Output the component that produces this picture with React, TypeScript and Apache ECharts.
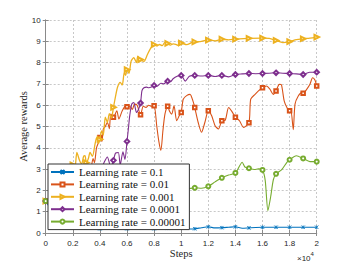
import React, { useEffect, useRef } from "react";
import * as echarts from "echarts";

// x in thousands of steps, y = average reward
const lr1: [number, number][] = [
  [0, 1.5], [0.5, 1.0], [1, 0.6], [1.5, 0.4], [2, 0.3], [3, 0.25], [4, 0.2], [5, 0.22], [6, 0.2],
  [7, 0.24], [8, 0.2], [9, 0.22], [9.5, 0.27], [10, 0.27], [10.3, 0.37], [10.65, 0.19], [11, 0.2],
  [11.5, 0.25], [12, 0.29], [12.5, 0.24], [13, 0.25], [13.5, 0.27], [14, 0.29], [14.5, 0.22],
  [15, 0.24], [15.5, 0.26], [16, 0.27], [17, 0.27], [18, 0.27], [19, 0.27], [20, 0.27],
];
const lr2: [number, number][] = [
  [0, 1.5], [1, 1.7], [2, 2.0], [2.5, 2.3], [3, 2.6], [3.2, 2.9], [3.35, 3.08], [3.5, 3.5],
  [3.6, 3.3], [3.75, 4.0], [3.9, 4.26], [4, 4.48], [4.15, 4.3], [4.25, 4.88], [4.4, 5.0],
  [4.55, 5.2], [4.7, 4.9], [4.8, 5.58], [5, 5.43], [5.25, 5.74], [5.4, 5.35], [5.65, 5.74],
  [5.9, 5.97], [6, 5.93], [6.2, 5.95], [6.4, 5.8], [6.55, 6.05], [6.75, 6.0], [7, 5.55],
  [7.2, 5.95], [7.4, 5.9], [7.6, 6.0], [7.8, 5.95], [8, 5.97], [8.2, 5.0], [8.35, 4.3],
  [8.5, 3.88], [8.65, 4.8], [8.8, 5.58], [9, 5.95], [9.15, 5.7], [9.3, 5.58], [9.47, 5.97],
  [9.67, 5.27], [9.85, 5.5], [10, 5.66], [10.15, 6.28], [10.4, 6.45], [10.65, 6.51],
  [10.9, 6.13], [11, 5.89], [11.25, 5.2], [11.5, 4.73], [11.75, 5.2], [12, 5.74], [12.25, 5.5],
  [12.5, 5.04], [12.75, 4.88], [13, 5.27], [13.25, 5.3], [13.5, 5.89], [13.75, 5.7], [14, 5.43],
  [14.3, 5.27], [14.6, 4.96], [15, 5.18], [15.13, 6.28], [15.45, 6.51], [15.7, 6.67], [16, 6.82],
  [16.3, 6.9], [16.55, 6.75], [16.8, 6.51], [17, 6.67], [17.24, 6.98], [17.4, 6.95], [17.6, 6.2],
  [17.8, 5.89], [18, 5.74], [18.1, 5.74], [18.27, 4.85], [18.4, 6.05], [18.64, 6.43],
  [18.9, 6.59], [19, 6.56], [19.26, 6.74], [19.5, 6.98], [19.7, 7.29], [19.87, 7.18], [20, 6.9],
];
const lr3: [number, number][] = [
  [0, 1.5], [0.5, 1.7], [1, 2.0], [1.5, 2.5], [1.8, 2.9], [2, 3.2], [2.15, 3.0], [2.3, 3.78],
  [2.5, 3.4], [2.65, 3.24], [2.8, 3.6], [2.9, 3.63], [3, 3.3], [3.15, 3.5], [3.27, 3.78],
  [3.45, 3.6], [3.64, 4.17], [3.76, 4.48], [3.9, 4.2], [4, 4.4], [4.13, 4.79], [4.25, 4.6],
  [4.4, 5.44], [4.55, 5.2], [4.7, 5.6], [4.85, 5.4], [5, 5.9], [5.15, 6.4], [5.3, 6.84],
  [5.5, 7.07], [5.65, 6.95], [5.8, 7.53], [5.9, 7.4], [6, 7.67], [6.15, 7.5], [6.3, 8.06],
  [6.5, 8.23], [6.7, 8.0], [6.8, 8.3], [7, 8.14], [7.25, 8.06], [7.5, 8.37], [7.75, 8.68],
  [8, 8.84], [8.2, 8.78], [8.4, 8.85], [8.6, 8.8], [8.8, 8.95], [9, 8.9], [9.2, 8.82],
  [9.4, 8.88], [9.6, 8.86], [9.8, 8.8], [10, 8.92], [10.4, 8.84], [10.8, 8.95], [11, 8.97],
  [11.4, 8.98], [12, 9.06], [12.5, 9.02], [13, 9.1], [13.5, 9.07], [14, 9.1], [15, 9.14],
  [16, 9.15], [16.5, 9.14], [17, 9.04], [17.5, 8.94], [18, 8.99], [18.5, 9.08], [19, 9.12],
  [19.5, 9.15], [20, 9.2],
];
const lr4: [number, number][] = [
  [0, 1.5], [1, 1.7], [2, 2.0], [3, 2.4], [3.5, 2.6], [4, 2.9], [4.3, 3.3], [4.55, 3.57],
  [4.8, 3.1], [5, 3.41], [5.15, 3.75], [5.36, 3.78], [5.5, 3.2], [5.7, 3.81], [5.85, 3.45],
  [6, 4.3], [6.1, 4.88], [6.2, 5.5], [6.35, 6.05], [6.5, 6.13], [6.7, 5.66], [6.85, 5.81],
  [7, 6.1], [7.1, 6.67], [7.25, 6.82], [7.45, 6.85], [7.6, 6.82], [7.8, 6.85], [8, 6.93],
  [8.2, 6.88], [8.5, 7.03], [8.7, 7.0], [9, 7.13], [9.2, 7.1], [9.4, 7.24], [9.7, 7.36],
  [10, 7.4], [10.3, 7.13], [10.6, 7.36], [11, 7.4], [11.5, 7.37], [12, 7.4], [12.5, 7.35],
  [13, 7.4], [13.5, 7.33], [14, 7.44], [14.5, 7.47], [15, 7.49], [15.5, 7.48], [16, 7.49],
  [16.5, 7.5], [17, 7.52], [17.5, 7.5], [18, 7.49], [18.5, 7.47], [19, 7.44], [19.5, 7.55],
  [20, 7.55],
];
const lr5: [number, number][] = [
  [0, 1.5], [1, 1.55], [2, 1.65], [3, 1.7], [4, 1.8], [5, 1.85], [6, 1.9], [7, 1.95], [8, 2.0],
  [9, 2.02], [10, 2.05], [10.5, 2.08], [11, 2.12], [11.5, 2.1], [12, 2.19], [12.5, 2.4],
  [13, 2.59], [13.5, 2.72], [14, 2.82], [14.25, 3.08], [14.5, 3.32], [14.7, 3.1], [15, 3.04],
  [15.4, 2.98], [15.7, 3.01], [16, 2.96], [16.2, 2.47], [16.4, 1.05], [16.6, 1.69], [16.8, 2.5],
  [17, 2.78], [17.4, 2.96], [17.8, 3.32], [18, 3.44], [18.5, 3.63], [19, 3.5], [19.5, 3.35],
  [20, 3.35],
];

const seriesNames = [
  "Learning rate = 0.1",
  "Learning rate = 0.01",
  "Learning rate = 0.001",
  "Learning rate = 0.0001",
  "Learning rate = 0.00001",
];
const seriesColors = ["#0072BD", "#D95319", "#EDB120", "#7E2F8E", "#77AC30"];
const yTicks = [0, 1, 2, 3, 4, 5, 6, 7, 8, 9, 10];

const asterisk = "path://M0,0L10,10M10,0L0,10M5,0L5,10";
const SERIF = "'Liberation Serif', 'DejaVu Serif', serif";
const SANS = "'Liberation Sans', Arial, sans-serif";

export default function App() {
  const ref = useRef<HTMLDivElement>(null);
  useEffect(() => {
    if (!ref.current) return;
    const chart = echarts.init(ref.current, null, { renderer: "svg" });
    const all = [lr1, lr2, lr3, lr4, lr5];
    const symbols = [asterisk, "emptyRect", "emptyTriangle", "emptyDiamond", "emptyCircle"];
    const sizes = [3.5, 3.5, 4.5, 4.5, 4];
    const rot = [0, 0, -90, 0, 0];
    const series = all.map((pts, i) => ({
      type: "line",
      name: seriesNames[i],
      data: pts.map(([k, v]) => ({
        value: [k * 1000, v],
        symbol: Number.isInteger(k) ? undefined : "none",
      })),
      symbol: symbols[i],
      symbolSize: sizes[i],
      symbolRotate: rot[i],
      showAllSymbol: true,
      smooth: 0.25,
      lineStyle: { color: seriesColors[i], width: i === 2 ? 1.3 : 1.1 },
      itemStyle: { color: seriesColors[i], borderColor: seriesColors[i], borderWidth: 0.8 },
      z: 2 + i,
    }));
    const axisCommon = {
      type: "value",
      axisLine: { show: true, lineStyle: { color: "#8a8a8a", width: 1 } },
      axisTick: { show: true, inside: true, length: 3, lineStyle: { color: "#8a8a8a" } },
    };
    chart.setOption({
      animation: false,
      grid: { left: 45.7, right: 33.3, top: 20, bottom: 29, show: false },
      xAxis: [
        {
          ...axisCommon,
          min: 0,
          max: 20000,
          interval: 2000,
          name: "Steps",
          nameLocation: "middle",
          nameGap: 15,
          nameMoveOverlap: false,
          nameTextStyle: { fontFamily: SERIF, fontSize: 10.5, color: "#262626" },
          axisLabel: {
            fontFamily: SANS,
            fontSize: 8,
            color: "#262626",
            margin: 6,
            formatter: (v: number) => String(Math.round(v / 1000) / 10),
          },
          splitLine: { show: true, lineStyle: { color: "#c8c8c8", type: [2, 2] } },
        },
        {
          ...axisCommon,
          position: "top",
          min: 0,
          max: 20000,
          interval: 2000,
          axisLabel: { show: false },
          splitLine: { show: false },
        },
      ],
      yAxis: [
        {
          ...axisCommon,
          min: 0,
          max: 10,
          interval: 1,
          name: "Average rewards",
          nameLocation: "middle",
          nameGap: 17,
          nameMoveOverlap: false,
          nameTextStyle: { fontFamily: SERIF, fontSize: 10.5, color: "#262626" },
          axisLabel: {
            fontFamily: SANS,
            fontSize: 8,
            color: "#262626",
            margin: 5,
            formatter: (v: number) => (yTicks.includes(v) ? String(v) : ""),
          },
          splitLine: { show: true, lineStyle: { color: "#c8c8c8", type: [2, 2] } },
        },
        {
          ...axisCommon,
          position: "right",
          min: 0,
          max: 10,
          interval: 1,
          axisLabel: { show: false },
          splitLine: { show: false },
        },
      ],
      legend: {
        orient: "vertical",
        left: 48,
        top: 164,
        padding: [2, 4, 2, 2],
        itemWidth: 23,
        itemHeight: 5,
        itemGap: 0.4,
        backgroundColor: "#ffffff",
        borderColor: "#333333",
        borderWidth: 1,
        borderRadius: 0,
        z: 20,
        textStyle: { fontFamily: SERIF, fontSize: 11, color: "#111", lineHeight: 12 },
        data: seriesNames,
      },
      graphic: [
        {
          type: "text",
          left: 297,
          top: 251,
          style: {
            text: "{a|×10}{b|4}",
            rich: {
              a: { fontFamily: SANS, fontSize: 8, fill: "#262626", padding: [3, 0, 0, 0] },
              b: { fontFamily: SANS, fontSize: 6, fill: "#262626", verticalAlign: "top" },
            },
          },
        },
      ],
      series,
    });
    return () => chart.dispose();
  }, []);
  return (
    <div
      ref={ref}
      style={{ position: "fixed", left: 0, top: 0, width: 350, height: 264, background: "#fff" }}
    />
  );
}
